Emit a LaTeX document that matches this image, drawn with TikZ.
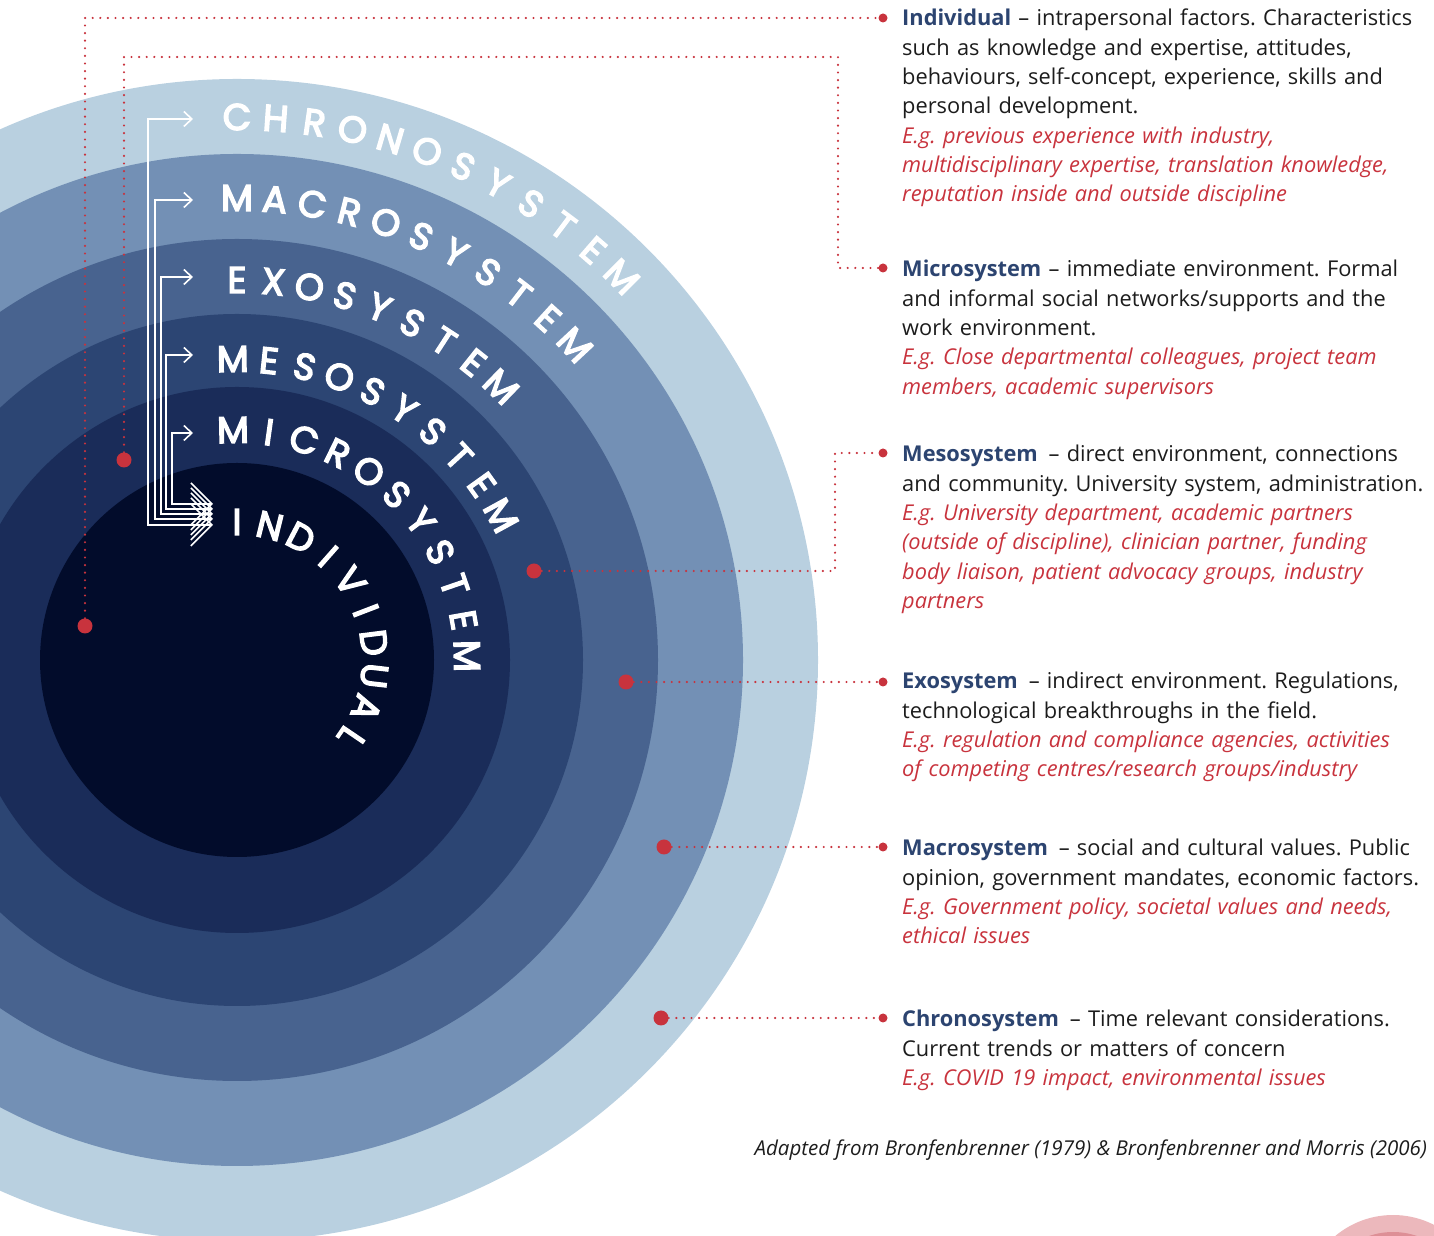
\documentclass[tikz,border=0pt]{standalone}
\usepackage{fontspec}
\setmainfont{Open Sans}
\newfontfamily\ringfont{Poppins}[FakeBold=4]
\usepackage{tikz}
\usetikzlibrary{arrows.meta}
\usepackage{xcolor}
\definecolor{ColChrono}{HTML}{B9D0E0}
\definecolor{ColMacro}{HTML}{7390B5}
\definecolor{ColExo}{HTML}{48638F}
\definecolor{ColMeso}{HTML}{2C4573}
\definecolor{ColMicro}{HTML}{1A2C59}
\definecolor{ColIndiv}{HTML}{020C2B}
\definecolor{ColRed}{HTML}{C8333D}
\definecolor{ColNavy}{HTML}{2C4470}
\definecolor{ColInk}{HTML}{1C1C1C}
\definecolor{ColPinkA}{HTML}{ECB8BC}
\definecolor{ColPinkB}{HTML}{DD8F96}
\tikzstyle{RingLetter}=[text=white,inner sep=0pt,font=\ringfont\fontsize{37}{37}\selectfont]
\tikzstyle{DotBig}=[circle,fill=ColRed,inner sep=0pt,minimum size=15pt]
\tikzstyle{DotSmall}=[circle,fill=ColRed,inner sep=0pt,minimum size=9pt]
\tikzstyle{Leader}=[ColRed,line width=2.4pt,line cap=round,dash pattern=on 0pt off 7.6pt]
\tikzstyle{Wire}=[white,line width=1.6pt,{Straight Barb[length=8pt,width=15pt]}-{Straight Barb[length=21pt,width=42pt]}]
\tikzstyle{InfoText}=[anchor=base west,inner sep=0pt,text width=600pt,align=left,text=ColInk,
font=\fontsize{21.8}{29.3}\selectfont\frenchspacing]
\newcommand{\Head}[1]{\textcolor{ColNavy}{\textbf{#1}}}

\begin{document}
\begin{tikzpicture}[x=1pt,y=1pt]
        \useasboundingbox(0,0)rectangle(1434,1236);
        \clip(0,0)rectangle(1434,1236);
        \coordinate(o)at(237,576);
        % rings
        \fill[ColChrono](o)circle(581);
        \fill[ColMacro](o)circle(506);
        \fill[ColExo](o)circle(421);
        \fill[ColMeso](o)circle(346);
        \fill[ColMicro](o)circle(273);
        \fill[ColIndiv](o)circle(197);
        \fill[ColPinkA](1393,-69)circle(90);
        \fill[ColPinkB](1393,-69)circle(73);
        % curved ring names
        \begin{scope}[shift={(o)}]
        \foreach \ch[count=\i from 0,evaluate=\i as \a using 90-4.1*\i] in {C,H,R,O,N,O,S,Y,S,T,E,M}
            \node[RingLetter,rotate=\a-90](chrono\i)at(\a:543){\ch};
        \foreach \ch[count=\i from 0,evaluate=\i as \a using 90-4.7*\i] in {M,A,C,R,O,S,Y,S,T,E,M}
            \node[RingLetter,rotate=\a-90](macro\i)at(\a:462){\ch};
        \foreach \ch[count=\i from 0,evaluate=\i as \a using 90-5.5*\i] in {E,X,O,S,Y,S,T,E,M}
            \node[RingLetter,rotate=\a-90](exo\i)at(\a:380){\ch};
        \foreach \ch[count=\i from 0,evaluate=\i as \a using 90.8-6.9*\i] in {M,E,S,O,S,Y,S,T,E,M}
            \node[RingLetter,rotate=\a-90](meso\i)at(\a:301){\ch};
        \foreach \ch[count=\i from 0,evaluate=\i as \a using 91-9*\i] in {M,I,C,R,O,S,Y,S,T,E,M}
            \node[RingLetter,rotate=\a-90](micro\i)at(\a:230){\ch};
        \foreach \ch[count=\i from 0,evaluate=\i as \a using 90-13.8*\i] in {I,N,D,I,V,I,D,U,A,L}
            \node[RingLetter,rotate=\a-90](indiv\i)at(\a:138){\ch};
        \end{scope}
        % white arrows into the individual
        \coordinate(ac)at(193,1117);\coordinate(bc)at(213,711);
        \coordinate(am)at(193,1036);\coordinate(bm)at(213,717);
        \coordinate(ae)at(193,959);\coordinate(be)at(213,722);
        \coordinate(as)at(193,881);\coordinate(bs)at(213,727);
        \coordinate(ai)at(193,803);\coordinate(bi)at(213,732);
        \draw[Wire](ac)--++(-45,0)|-(bc);
        \draw[Wire](am)--++(-38,0)|-(bm);
        \draw[Wire](ae)--++(-32,0)|-(be);
        \draw[Wire](as)--++(-27,0)|-(bs);
        \draw[Wire](ai)--++(-21,0)|-(bi);
        % dots and leaders
        \node[DotBig](dind)at(85,610){};
        \node[DotBig](dmic)at(124,776){};
        \node[DotBig](dmes)at(534,665){};
        \node[DotBig](dexo)at(626,554){};
        \node[DotBig](dmac)at(664,389){};
        \node[DotBig](dchr)at(661,218){};
        \node[DotSmall](tind)at(883,1218){};
        \node[DotSmall](tmic)at(883,968){};
        \node[DotSmall](tmes)at(883,783){};
        \node[DotSmall](texo)at(883,554){};
        \node[DotSmall](tmac)at(883,389){};
        \node[DotSmall](tchr)at(883,218){};
        \coordinate(kmic)at(838,1179);
        \coordinate(kmes)at(835,783);
        \draw[Leader](dind)|-(tind);
        \draw[Leader](dmic)|-(kmic)|-(tmic);
        \draw[Leader](dmes)-|(kmes)--(tmes);
        \draw[Leader](dexo)--(texo);
        \draw[Leader](dmac)--(tmac);
        \draw[Leader](dchr)--(tchr);
        % descriptions
        \node[InfoText](xind)at(902,1210){\Head{Individual} – intrapersonal factors. Characteristics\\
            such as knowledge and expertise, attitudes,\\
            behaviours, self-concept, experience, skills and\\
            personal development.\\
            {\color{ColRed}\itshape E.g. previous experience with industry,\\
            multidisciplinary expertise, translation knowledge,\\
            reputation inside and outside discipline}};
        \node[InfoText](xmic)at(902,959){\Head{Microsystem} – immediate environment. Formal\\
            and informal social networks/supports and the\\
            work environment.\\
            {\color{ColRed}\itshape E.g. Close departmental colleagues, project team\\
            members, academic supervisors}};
        \node[InfoText](xmes)at(902,774){\Head{Mesosystem}\enspace– direct environment, connections\\
            and community. University system, administration.\\
            {\color{ColRed}\itshape E.g. University department, academic partners\\
            (outside of discipline), clinician partner, funding\\
            body liaison, patient advocacy groups, industry\\
            partners}};
        \node[InfoText](xexo)at(902,547){\Head{Exosystem}\enspace– indirect environment. Regulations,\\
            technological breakthroughs in the field.\\
            {\color{ColRed}\itshape E.g. regulation and compliance agencies, activities\\
            of competing centres/research groups/industry}};
        \node[InfoText](xmac)at(902,380){\Head{Macrosystem}\enspace– social and cultural values. Public\\
            opinion, government mandates, economic factors.\\
            {\color{ColRed}\itshape E.g. Government policy, societal values and needs,\\
            ethical issues}};
        \node[InfoText](xchr)at(902,209){\Head{Chronosystem}\enspace– Time relevant considerations.\\
            Current trends or matters of concern\\
            {\color{ColRed}\itshape E.g. COVID 19 impact, environmental issues}};
        \node[anchor=base east,inner sep=0pt,text=ColInk,font=\fontsize{20.5}{20.5}\selectfont\itshape](src)at(1427,80)
            {Adapted from Bronfenbrenner (1979) \& Bronfenbrenner and Morris (2006)};
    \end{tikzpicture}
\end{document}
